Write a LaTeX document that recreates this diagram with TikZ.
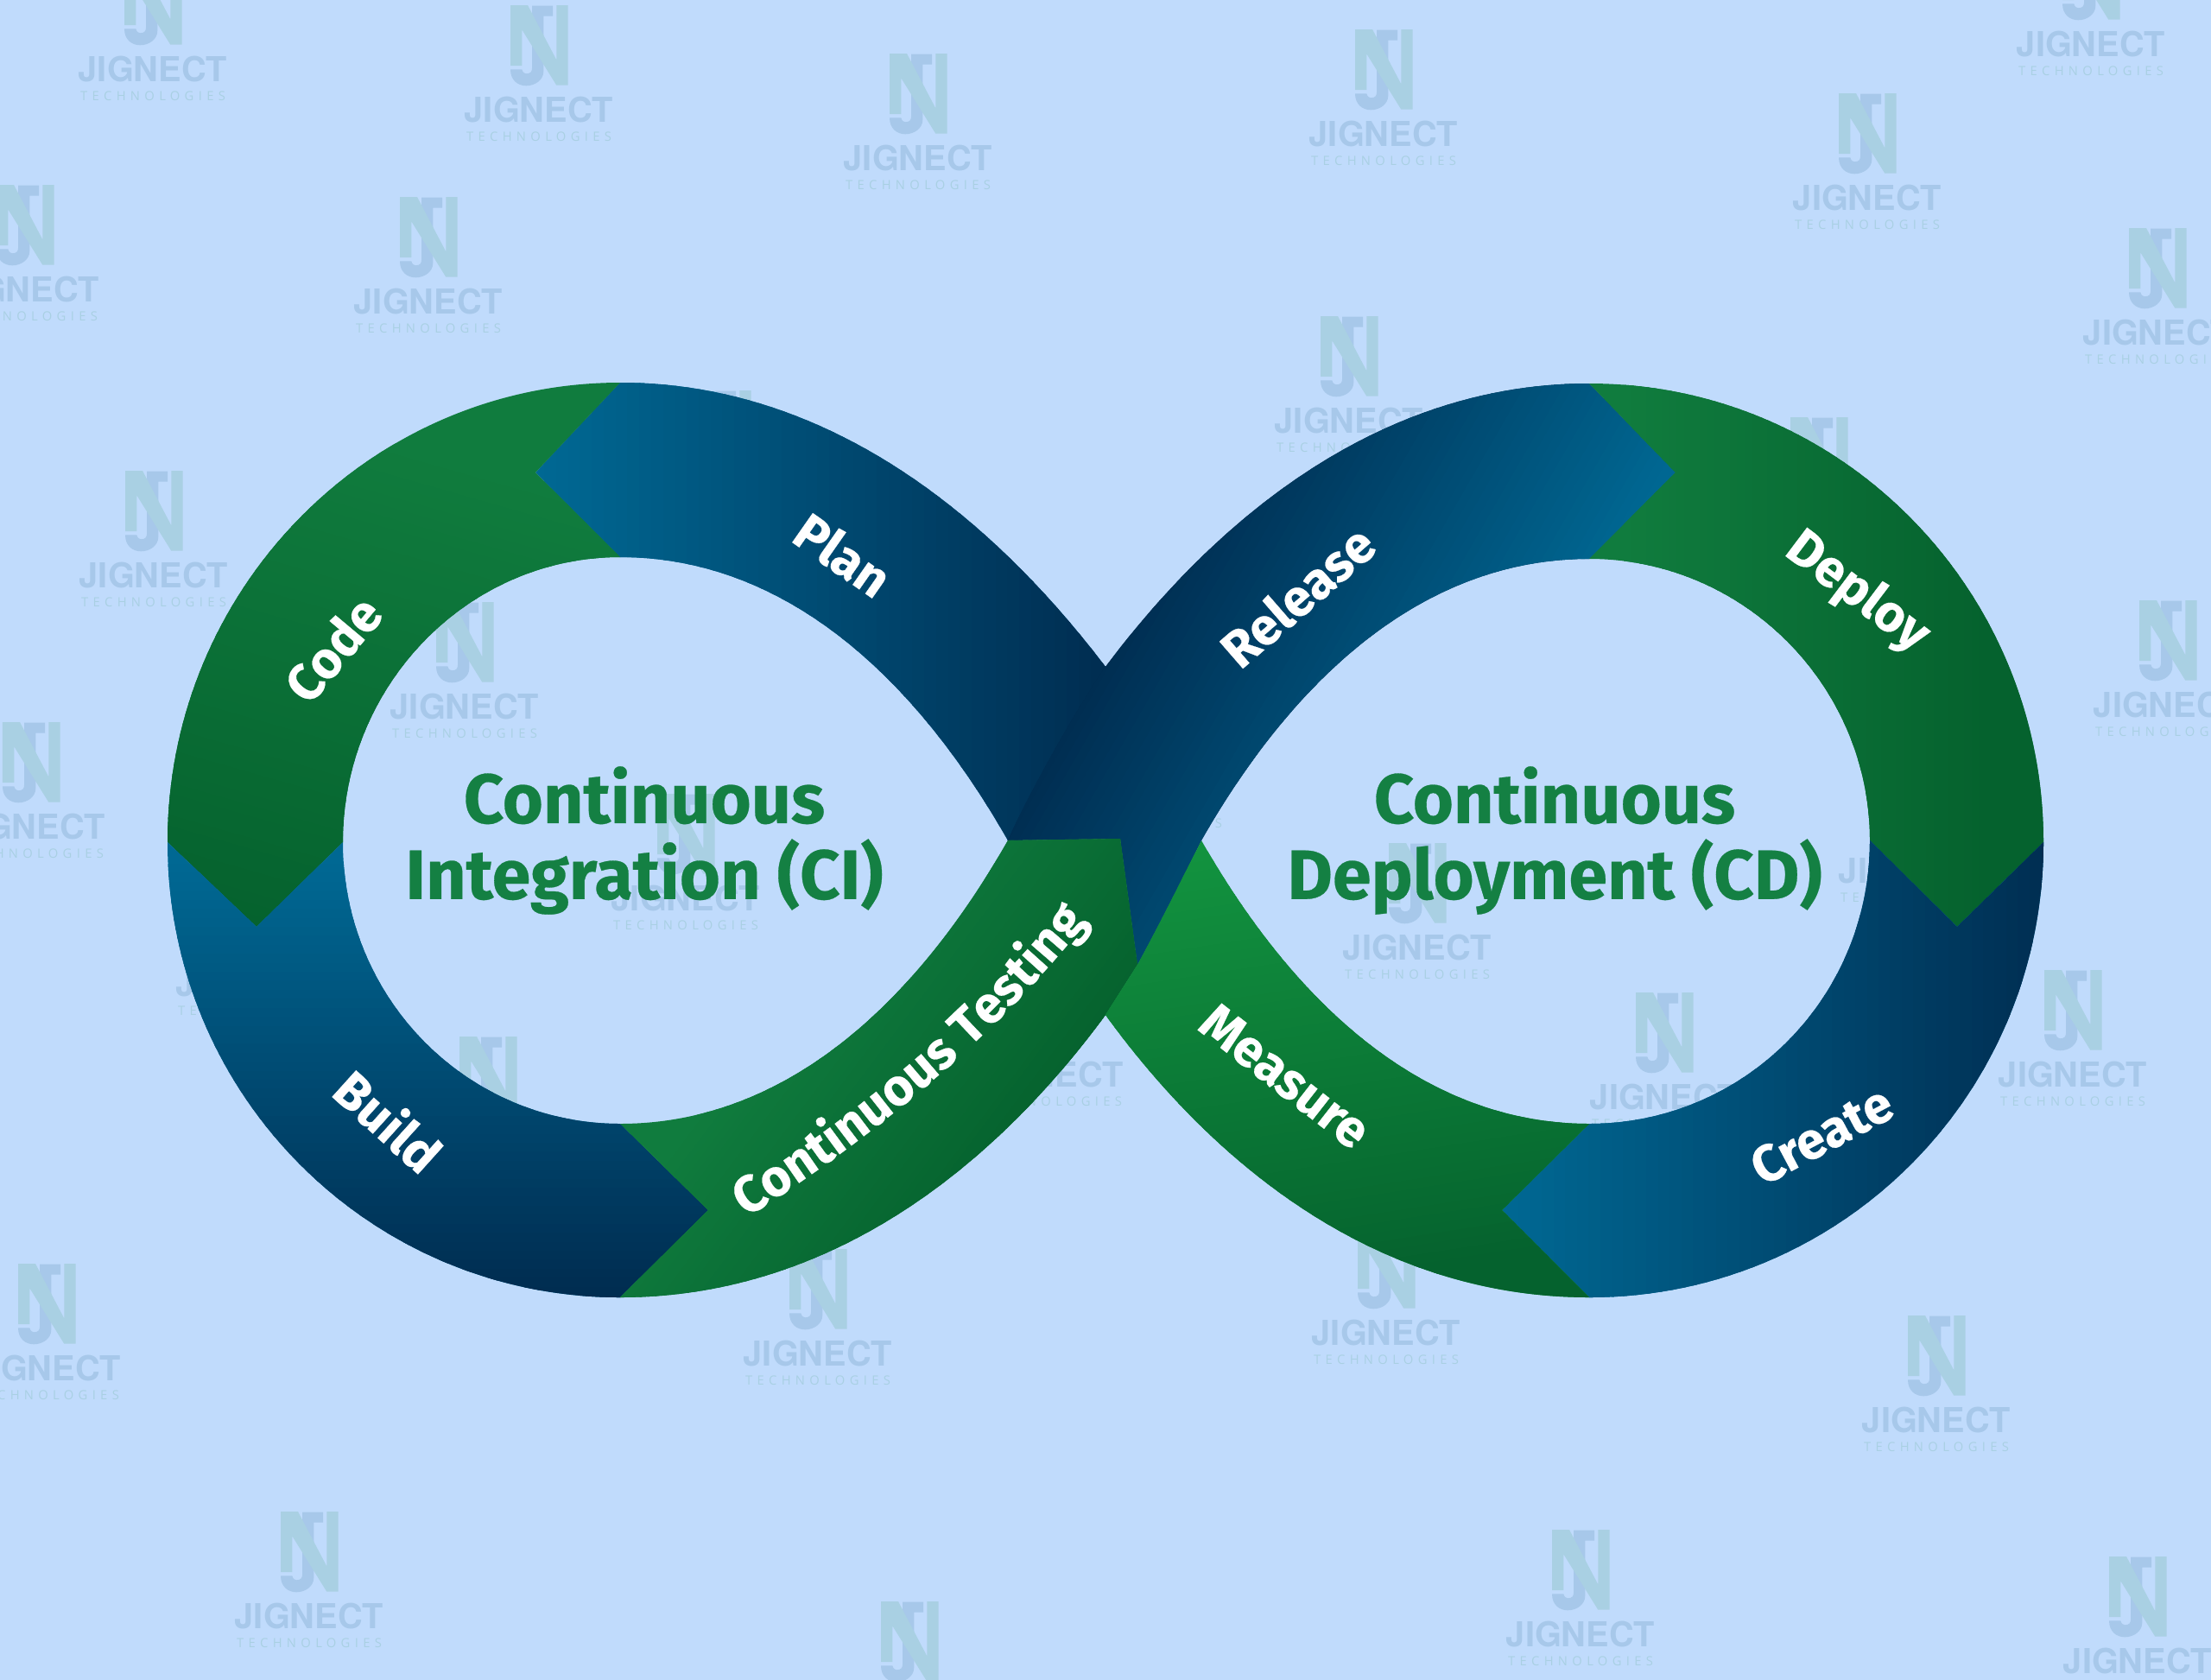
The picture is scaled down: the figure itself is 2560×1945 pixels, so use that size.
\documentclass[tikz,border=0pt]{standalone}
\usepackage{fontspec}
\usetikzlibrary{decorations.text}
\setmainfont{Fira Sans}[BoldFeatures={FakeBold=0.35}]
\newfontfamily\wmfont{TeX Gyre Heros}
\newfontfamily\wmsfont[LetterSpace=36]{Open Sans}
\definecolor{bgc}{HTML}{C0DBFC}
\definecolor{gL}{HTML}{107C3E}
\definecolor{gD}{HTML}{05622E}
\definecolor{gB}{HTML}{12933F}
\definecolor{bL}{HTML}{006893}
\definecolor{bD}{HTML}{002C50}
\definecolor{headc}{HTML}{148043}
\definecolor{wmJ}{HTML}{A7C8EA}
\definecolor{wmN}{HTML}{A9D0E3}
\newcommand{\gradband}[7]{%
  \begin{scope}
    \clip #1;
    \pgfmathsetmacro\gang{atan2((#3)-(#5),(#4)-(#2))}
    \pgfmathsetmacro\glen{veclen((#4)-(#2),(#5)-(#3))}
    \pgfmathsetmacro\gstep{\glen/48}
    \begin{scope}[shift={(#2,#3)},rotate=\gang]
      \fill[#6] (-4000,-4000) rectangle (4000,4000);
      \fill[#7] (\glen,-4000) rectangle (4000,4000);
      \foreach \gi in {1,...,48}{
        \pgfmathsetmacro\gp{(\gi-0.5)*100/48}
        \pgfmathsetmacro\gx{(\gi-1)*\gstep}
        \pgfmathsetmacro\gy{(\gi+0.4)*\gstep}
        \fill[#7!\gp!#6] (\gx,-4000) rectangle (\gy,4000);
      }
    \end{scope}
  \end{scope}}
\tikzset{
  wmk/.pic={
    \fill[wmJ] (-8,-120.3) -- (16,-120.3) -- (16,-108.3) -- (5.3,-108.3) -- (5.3,-44.3)
      .. controls (5.3,-34.3) and (-4.7,-27.7) .. (-14.7,-27.7)
      .. controls (-24.7,-27.7) and (-33,-34.3) .. (-33,-46.7)
      -- (-19.7,-46.7) .. controls (-18.7,-42.7) and (-16.3,-41.7) .. (-14.7,-41.7)
      .. controls (-9.7,-41.7) and (-8,-44.3) .. (-8,-47.7) -- cycle;
    \fill[wmN] (-33,-121) -- (-13,-121) -- (20.3,-57.7) -- (20.3,-121) -- (33.7,-121)
      -- (33.7,-28.3) -- (20.3,-28.3) -- (-19.7,-92.7) -- (-19.7,-51) -- (-33,-51) -- cycle;
    \node[inner sep=0,text=wmJ,font=\wmfont\fontsize{11.3}{14}\selectfont\bfseries] at (0,0) {JIGNECT};
    \node[inner sep=0,text=wmN,font=\wmsfont\fontsize{4.2}{5}\selectfont] at (0,31) {TECHNOLOGIES};
  },
  headline/.style={text=headc,align=center,inner sep=0,
    font=\fontsize{23}{25}\selectfont\bfseries},
  bandlabel/.style={text=white,inner sep=0,
    font=\fontsize{17}{20}\selectfont\bfseries}
}
\begin{document}
\begin{tikzpicture}[x=0.01cm,y=-0.01cm]
\useasboundingbox (0,0) rectangle (2560,1945);
\fill[bgc] (0,0) rectangle (2560,1945);
\begin{scope}
\clip (0,0) rectangle (2560,1945);
\foreach \wx/\wy in {177/80,624/127,1063/183,1602/155,2162/229,2421/51,29/335,496/349,1562/487,
  836/573,2106/604,2498/385,178/666,538/818,2510/816,36/957,794/1040,1331/922,1641/1097,
  2215/1008,1927/1270,2400/1244,290/1139,565/1321,1215/1244,54/1584,947/1567,1605/1543,
  2242/1644,358/1871,1830/1892,1053/1975,2475/1923}
  {\pic at (\wx,\wy) {wmk};}
\end{scope}
% Plan
\gradband{(718,443) .. controls (940,443) and (1130,575) .. (1280,772) -- (1167,973)
  .. controls (1060,785) and (910,645) .. (718,645) -- (620,547) -- cycle}{630}{700}{1290}{700}{bL}{bD}
% Code
\gradband{(718,443) .. controls (429,443) and (194,682) .. (194,975) -- (297,1073) -- (397,975)
  .. controls (397,794) and (541,645) .. (718,645) -- (620,547) -- cycle}{480}{520}{320}{1080}{gL}{gD}
% Build
\gradband{(194,975) .. controls (194,1268) and (429,1502) .. (718,1502) -- (820,1401) -- (718,1301)
  .. controls (541,1301) and (397,1156) .. (397,975) -- (297,1073) -- cycle}{300}{1000}{300}{1500}{bL}{bD}
% Release
\gradband{(1840,444) .. controls (1618,444) and (1428,575) .. (1280,772)
  .. controls (1250,815) and (1190,920) .. (1167,973) -- (1297,971) -- (1317,1117)
  .. controls (1340,1075) and (1365,1025) .. (1391,973)
  .. controls (1498,785) and (1648,647) .. (1840,647) -- (1940,547) -- cycle}{1280}{739}{1687}{974}{bD}{bL}
% Deploy
\gradband{(1840,444) .. controls (2131,444) and (2366,682) .. (2366,975) -- (2266,1073) -- (2165,973)
  .. controls (2165,794) and (2019,647) .. (1840,647) -- (1940,547) -- cycle}{1880}{700}{2300}{700}{gL}{gD}
% Create
\gradband{(1840,1502) .. controls (2131,1502) and (2366,1268) .. (2366,975) -- (2266,1073) -- (2165,973)
  .. controls (2165,1156) and (2019,1301) .. (1840,1301) -- (1739,1401) -- cycle}{1745}{1300}{2390}{1300}{bL}{bD}
% Continuous Testing
\gradband{(718,1502) .. controls (950,1502) and (1140,1365) .. (1280,1175) -- (1317,1117)
  -- (1297,971) -- (1167,973) .. controls (1060,1161) and (910,1301) .. (718,1301)
  -- (820,1401) -- cycle}{800}{1300}{1056}{1492}{gL}{gD}
% Measure
\gradband{(1840,1502) .. controls (1608,1502) and (1418,1365) .. (1280,1175) -- (1317,1117)
  .. controls (1340,1075) and (1365,1025) .. (1391,973)
  .. controls (1498,1161) and (1648,1301) .. (1840,1301) -- (1739,1401) -- cycle}{1400}{985}{1480}{1500}{gB}{gD}
% Labels
\node[bandlabel,rotate=-35] (plan) at (976,642) {Plan};
\node[bandlabel,rotate=50] (code) at (385,751) {Code};
\node[bandlabel,rotate=-42] (build) at (450,1297) {Build};
\node[bandlabel,rotate=41] (release) at (1502,690) {Release};
\node[bandlabel,rotate=-37] (deploy) at (2150,686) {Deploy};
\node[bandlabel,rotate=28] (create) at (2109,1314) {Create};
\node[bandlabel,rotate=-38] (measure) at (1488,1246) {Measure};
\path[decorate,decoration={text along path,text align=center,text color=white,
  text={|\fontsize{17}{20}\selectfont\bfseries|Continuous Testing}}]
  (860,1412) .. controls (960,1350) and (1130,1230) .. (1262,1062);
% Headings
\node[headline] (ci) at (746,973) {Continuous\\Integration (CI)};
\node[headline] (cd) at (1800,973) {Continuous\\Deployment (CD)};
\end{tikzpicture}
\end{document}
